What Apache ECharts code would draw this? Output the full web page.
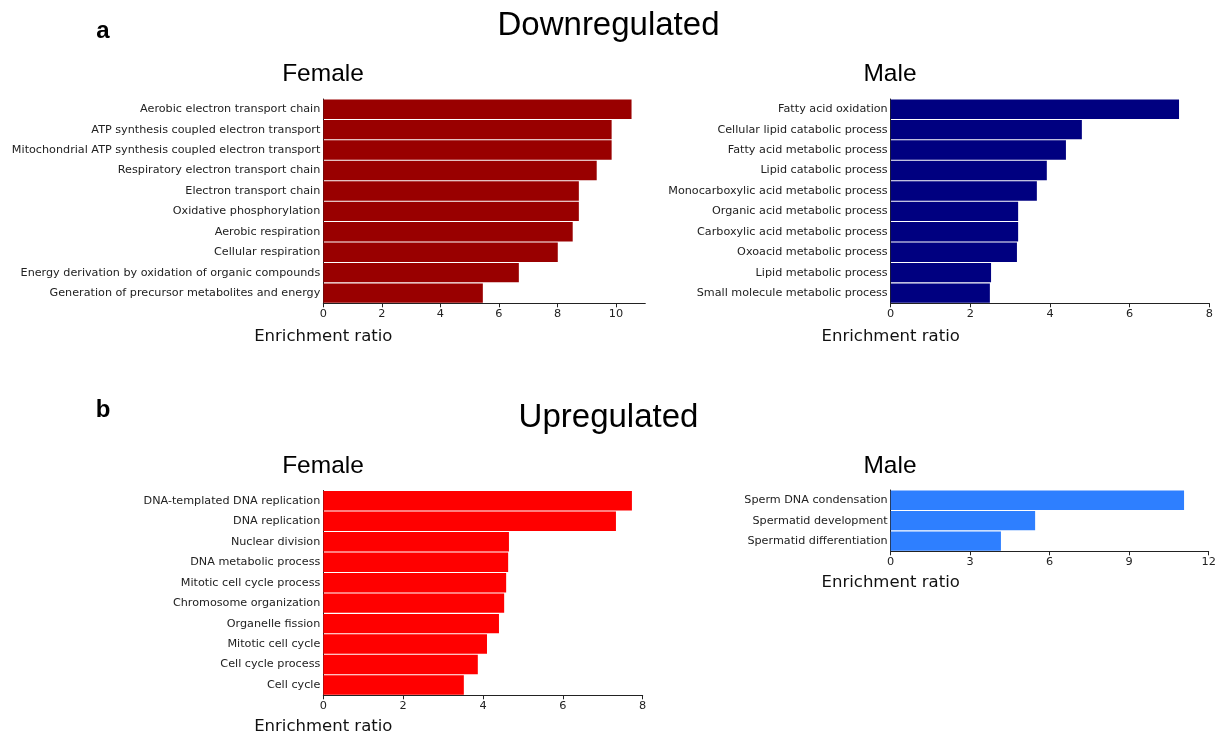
<!DOCTYPE html>
<html>
<head>
<meta charset="utf-8">
<script src="https://cdn.jsdelivr.net/npm/echarts@6/dist/echarts.min.js"></script>
<style>
html,body{margin:0;padding:0;background:#fff;}
#chart{width:1223px;height:736px;}
</style>
</head>
<body>
<div id="chart"></div>
<script>
// ---- Data ----
const femaleDownCategories = [
  "Aerobic electron transport chain",
  "ATP synthesis coupled electron transport",
  "Mitochondrial ATP synthesis coupled electron transport",
  "Respiratory electron transport chain",
  "Electron transport chain",
  "Oxidative phosphorylation",
  "Aerobic respiration",
  "Cellular respiration",
  "Energy derivation by oxidation of organic compounds",
  "Generation of precursor metabolites and energy"
];
const femaleDownValues = [10.53, 9.85, 9.85, 9.34, 8.73, 8.73, 8.52, 8.01, 6.68, 5.45];

const maleDownCategories = [
  "Fatty acid oxidation",
  "Cellular lipid catabolic process",
  "Fatty acid metabolic process",
  "Lipid catabolic process",
  "Monocarboxylic acid metabolic process",
  "Organic acid metabolic process",
  "Carboxylic acid metabolic process",
  "Oxoacid metabolic process",
  "Lipid metabolic process",
  "Small molecule metabolic process"
];
const maleDownValues = [7.24, 4.80, 4.40, 3.92, 3.67, 3.20, 3.20, 3.17, 2.52, 2.49];

const femaleUpCategories = [
  "DNA-templated DNA replication",
  "DNA replication",
  "Nuclear division",
  "DNA metabolic process",
  "Mitotic cell cycle process",
  "Chromosome organization",
  "Organelle fission",
  "Mitotic cell cycle",
  "Cell cycle process",
  "Cell cycle"
];
const femaleUpValues = [7.73, 7.33, 4.65, 4.63, 4.58, 4.53, 4.40, 4.10, 3.87, 3.52];

const maleUpCategories = [
  "Sperm DNA condensation",
  "Spermatid development",
  "Spermatid differentiation"
];
const maleUpValues = [11.07, 5.45, 4.16];

const axisTitle = "Enrichment ratio";
const sectionTitles = ["Downregulated", "Upregulated"];
const panelTitles = ["Female", "Male"];
const panelLetters = ["a", "b"];

// ---- Layout ----
const panels = [
  {cats: femaleDownCategories, vals: femaleDownValues, color: "#990000", left: 323.3, width: 322, top: 99, height: 204.3, max: 11, interval: 2, titleY: 337},
  {cats: maleDownCategories, vals: maleDownValues, color: "#000080", left: 890.7, width: 318.6, top: 99, height: 204.3, max: 8, interval: 2, titleY: 337},
  {cats: femaleUpCategories, vals: femaleUpValues, color: "#FF0000", left: 323.3, width: 319.4, top: 490.5, height: 204.8, max: 8, interval: 2, titleY: 726.5},
  {cats: maleUpCategories, vals: maleUpValues, color: "#2E7FFF", left: 890.7, width: 318, top: 490, height: 61.3, max: 12, interval: 3, titleY: 582.5}
];

const axisColor = "#222";
const labelFont = "DejaVu Sans";
const titleFont = "Liberation Sans";

const grids = [], xAxes = [], yAxes = [], series = [], graphics = [];
panels.forEach((p, i) => {
  grids.push({left: p.left, top: p.top, width: p.width, height: p.height, outerBoundsMode: 'none', containLabel: false});
  xAxes.push({
    type: 'value', gridIndex: i, min: 0, max: p.max, interval: p.interval,
    splitLine: {show: false},
    axisLine: {show: true, lineStyle: {color: axisColor, width: 1}},
    axisTick: {show: true, length: 4, lineStyle: {color: axisColor}},
    axisLabel: {show: true, margin: 5, color: axisColor, fontFamily: labelFont, fontSize: 11.3,
      showMaxLabel: (p.max % p.interval === 0)}
  });
  yAxes.push({
    type: 'category', gridIndex: i, data: p.cats, inverse: true,
    axisLine: {show: true, lineStyle: {color: axisColor, width: 1}},
    axisTick: {show: false},
    splitLine: {show: false},
    axisLabel: {show: true, margin: 3, color: axisColor, fontFamily: labelFont, fontSize: 11.2, interval: 0}
  });
  series.push({
    type: 'bar', xAxisIndex: i, yAxisIndex: i, data: p.vals,
    barCategoryGap: '5%', itemStyle: {color: p.color}, silent: true, animation: false
  });
  graphics.push({
    type: 'text', x: p.left, y: p.titleY,
    style: {text: axisTitle, fontFamily: labelFont, fontSize: 16.5, fill: '#111', align: 'center', verticalAlign: 'middle'}
  });
});

// section titles
[[25.8, 0], [417.5, 1]].forEach(([y, k]) => {
  graphics.push({type: 'text', x: 608.5, y: y,
    style: {text: sectionTitles[k], fontFamily: titleFont, fontSize: 33, fill: '#000', align: 'center', verticalAlign: 'middle'}});
});
// panel titles
[[323, 74.1, 0], [890, 74.1, 1], [323, 465.8, 0], [890, 465.8, 1]].forEach(([x, y, k]) => {
  graphics.push({type: 'text', x: x, y: y,
    style: {text: panelTitles[k], fontFamily: titleFont, fontSize: 24.5, fill: '#000', align: 'center', verticalAlign: 'middle'}});
});
// panel letters
[[103, 31, 0], [103, 410.5, 1]].forEach(([x, y, k]) => {
  graphics.push({type: 'text', x: x, y: y,
    style: {text: panelLetters[k], fontFamily: titleFont, fontWeight: 'bold', fontSize: 24, fill: '#000', align: 'center', verticalAlign: 'middle'}});
});

const chart = echarts.init(document.getElementById('chart'), null, {renderer: 'canvas'});
chart.setOption({
  animation: false,
  backgroundColor: '#fff',
  grid: grids,
  xAxis: xAxes,
  yAxis: yAxes,
  series: series,
  graphic: graphics
});
</script>
</body>
</html>
